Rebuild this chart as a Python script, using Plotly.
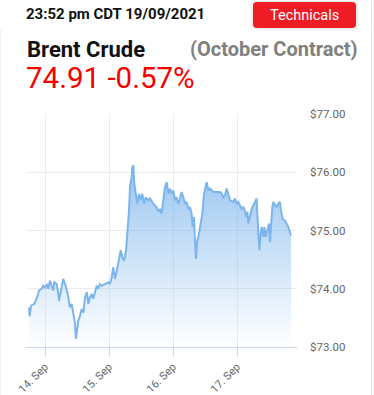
import plotly.graph_objects as go

# ---- data ----
times = [
    "2021-09-13 18:00", "2021-09-13 18:15", "2021-09-13 18:45", "2021-09-13 20:00", "2021-09-13 21:15",
    "2021-09-13 21:45", "2021-09-13 22:45", "2021-09-13 23:20", "2021-09-14 00:00", "2021-09-14 00:40",
    "2021-09-14 01:15", "2021-09-14 01:50", "2021-09-14 02:30", "2021-09-14 03:05", "2021-09-14 03:30",
    "2021-09-14 04:25", "2021-09-14 05:00", "2021-09-14 05:15", "2021-09-14 06:00", "2021-09-14 06:50",
    "2021-09-14 07:30", "2021-09-14 08:05", "2021-09-14 08:45", "2021-09-14 09:20", "2021-09-14 10:00",
    "2021-09-14 10:35", "2021-09-14 11:15", "2021-09-14 11:35", "2021-09-14 12:05", "2021-09-14 12:30",
    "2021-09-14 13:05", "2021-09-14 13:45", "2021-09-14 14:25", "2021-09-14 15:00", "2021-09-14 15:40",
    "2021-09-14 16:15", "2021-09-14 16:50", "2021-09-14 17:30", "2021-09-14 18:05", "2021-09-14 18:45",
    "2021-09-14 19:25", "2021-09-14 20:00", "2021-09-14 20:35", "2021-09-14 21:15", "2021-09-14 22:30",
    "2021-09-14 23:45", "2021-09-15 00:20", "2021-09-15 01:00", "2021-09-15 01:35", "2021-09-15 02:15",
    "2021-09-15 02:55", "2021-09-15 03:30", "2021-09-15 04:25", "2021-09-15 05:00", "2021-09-15 05:40",
    "2021-09-15 06:25", "2021-09-15 06:55", "2021-09-15 07:30", "2021-09-15 07:52", "2021-09-15 08:30",
    "2021-09-15 08:45", "2021-09-15 09:07", "2021-09-15 09:30", "2021-09-15 10:00", "2021-09-15 10:36",
    "2021-09-15 11:15", "2021-09-15 11:53", "2021-09-15 12:30", "2021-09-15 13:08", "2021-09-15 13:45",
    "2021-09-15 14:45", "2021-09-15 15:22", "2021-09-15 16:00", "2021-09-15 16:37", "2021-09-15 17:53",
    "2021-09-15 18:30", "2021-09-15 19:07", "2021-09-15 19:45", "2021-09-15 20:22", "2021-09-15 21:00",
    "2021-09-15 21:38", "2021-09-15 22:15", "2021-09-15 22:52", "2021-09-15 23:30", "2021-09-16 00:07",
    "2021-09-16 00:45", "2021-09-16 01:23", "2021-09-16 02:00", "2021-09-16 02:37", "2021-09-16 03:15",
    "2021-09-16 03:52", "2021-09-16 04:30", "2021-09-16 05:07", "2021-09-16 05:45", "2021-09-16 06:22",
    "2021-09-16 07:00", "2021-09-16 07:22", "2021-09-16 07:52", "2021-09-16 08:15", "2021-09-16 08:37",
    "2021-09-16 09:07", "2021-09-16 09:45", "2021-09-16 10:22", "2021-09-16 11:00", "2021-09-16 11:37",
    "2021-09-16 12:15", "2021-09-16 12:37", "2021-09-16 13:15", "2021-09-16 13:52", "2021-09-16 15:07",
    "2021-09-16 16:22", "2021-09-16 17:37", "2021-09-16 18:15", "2021-09-16 18:52", "2021-09-16 19:30",
    "2021-09-16 20:07", "2021-09-16 20:45", "2021-09-16 21:22", "2021-09-16 22:37", "2021-09-16 23:15",
    "2021-09-16 23:52", "2021-09-17 00:30", "2021-09-17 01:07", "2021-09-17 01:45", "2021-09-17 02:22",
    "2021-09-17 03:00", "2021-09-17 03:22", "2021-09-17 03:52", "2021-09-17 04:15", "2021-09-17 04:52",
    "2021-09-17 05:30", "2021-09-17 06:07", "2021-09-17 06:45", "2021-09-17 07:22", "2021-09-17 07:37",
    "2021-09-17 08:00", "2021-09-17 08:22", "2021-09-17 08:52", "2021-09-17 09:15", "2021-09-17 09:52",
    "2021-09-17 10:15", "2021-09-17 10:45", "2021-09-17 11:22", "2021-09-17 12:00", "2021-09-17 12:22",
    "2021-09-17 12:45", "2021-09-17 13:15", "2021-09-17 13:37", "2021-09-17 14:15", "2021-09-17 14:52",
    "2021-09-17 15:30", "2021-09-17 16:07", "2021-09-17 16:30", "2021-09-17 17:07", "2021-09-17 18:00",
    "2021-09-17 18:37", "2021-09-17 19:15", "2021-09-17 19:52", "2021-09-17 20:15",
]
prices = [
    73.68, 73.53, 73.71, 73.74, 73.88,
    73.97, 74.00, 74.05, 74.02, 74.08,
    74.00, 74.14, 74.05, 73.97, 74.11,
    74.08, 73.91, 73.79, 73.97, 74.17,
    74.08, 74.00, 73.85, 73.68, 73.74,
    73.57, 73.40, 73.14, 73.31, 73.45,
    73.53, 73.65, 73.59, 73.85, 73.94,
    73.74, 73.85, 73.91, 73.83, 73.97,
    74.05, 74.00, 74.08, 74.05, 74.08,
    74.11, 74.08, 74.19, 74.37, 74.17,
    74.31, 74.43, 74.66, 74.54, 74.48,
    74.66, 74.94, 75.34, 75.75, 75.92,
    76.09, 76.12, 75.80, 75.63, 75.46,
    75.63, 75.52, 75.63, 75.46, 75.57,
    75.52, 75.55, 75.49, 75.46, 75.40,
    75.32, 75.37, 75.29, 75.52, 75.75,
    75.83, 75.63, 75.72, 75.63, 75.69,
    75.52, 75.57, 75.46, 75.55, 75.66,
    75.57, 75.46, 75.49, 75.37, 75.40,
    75.29, 75.06, 75.23, 74.83, 74.51,
    74.83, 74.94, 75.12, 75.29, 75.63,
    75.78, 75.83, 75.69, 75.72, 75.66,
    75.66, 75.66, 75.63, 75.57, 75.60,
    75.72, 75.63, 75.52, 75.49, 75.55,
    75.46, 75.49, 75.43, 75.37, 75.40,
    75.34, 75.23, 75.32, 75.12, 75.26,
    75.37, 75.43, 75.49, 75.55, 75.29,
    74.89, 74.66, 74.94, 75.06, 74.89,
    75.06, 74.89, 75.03, 75.12, 74.80,
    75.17, 75.40, 75.49, 75.43, 75.40,
    75.46, 75.49, 75.34, 75.20, 75.17,
    75.12, 75.06, 74.97, 74.91,
]
x_tick_vals = ["2021-09-14", "2021-09-15", "2021-09-16", "2021-09-17"]
x_tick_text = ["14. Sep", "15. Sep", "16. Sep", "17. Sep"]
y_tick_vals = [73, 74, 75, 76, 77]
y_tick_text = ["$73.00", "$74.00", "$75.00", "$76.00", "$77.00"]

title_time = "23:52 pm CDT 19/09/2021"
title_name = "Brent Crude"
title_contract = "(October Contract)"
title_quote = "74.91 -0.57%"
button_text = "Technicals"

# ---- layout geometry (page pixels; the body margin is removed below) ----
W, H = 374, 395
L, R, T, B = 26, 297, 114, 347


def px(x):  # pixel -> paper x
    return (x - L) / (R - L)


def pxa(x):  # pixel -> paper x for annotations (measured correction)
    return (x - 18) / 279


def py(y):  # pixel -> paper y
    return (B - y) / (B - T)


fig = go.Figure()
fig.add_trace(go.Scatter(
    x=times, y=prices, mode="lines",
    line=dict(color="#7cb5ec", width=2),
    fill="tozeroy",
    fillgradient=dict(type="vertical", start=73, stop=77,
                      colorscale=[[0, "rgba(124,181,236,0)"], [1, "rgba(124,181,236,1)"]]),
    hoverinfo="skip", showlegend=False,
))


def rounded_rect(x0, x1, y0, y1, r):
    return (f"M {px(x0 + r)},{py(y0)} L {px(x1 - r)},{py(y0)} "
            f"Q {px(x1)},{py(y0)} {px(x1)},{py(y0 + r)} "
            f"L {px(x1)},{py(y1 - r)} Q {px(x1)},{py(y1)} {px(x1 - r)},{py(y1)} "
            f"L {px(x0 + r)},{py(y1)} Q {px(x0)},{py(y1)} {px(x0)},{py(y1 - r)} "
            f"L {px(x0)},{py(y0 + r)} Q {px(x0)},{py(y0)} {px(x0 + r)},{py(y0)} Z")


shapes = [
    # soft shadow round the button
    dict(type="path", xref="paper", yref="paper", path=rounded_rect(250, 359, 0, 31, 7),
         fillcolor="rgba(0,0,0,0.035)", line=dict(width=0), layer="above"),
    dict(type="path", xref="paper", yref="paper", path=rounded_rect(251.5, 357.5, 1, 29.5, 5),
         fillcolor="rgba(0,0,0,0.04)", line=dict(width=0), layer="above"),
    dict(type="path", xref="paper", yref="paper", path=rounded_rect(253, 356, 2, 28, 4),
         fillcolor="#ee1c25", line=dict(width=0), layer="above"),
    # card edges
    dict(type="line", xref="paper", yref="paper", x0=px(371.5), x1=px(371.5), y0=py(0), y1=py(395),
         line=dict(color="#e4e4e4", width=1)),
    dict(type="line", xref="paper", yref="paper", x0=px(0.5), x1=px(0.5), y0=py(30), y1=py(395),
         line=dict(color="#efefef", width=1)),
]

font = "Roboto, 'Open Sans', sans-serif"
annotations = [
    dict(text=f"<b>{title_time}</b>", x=pxa(110.5), y=py(13.5), xref="paper", yref="paper",
         xanchor="center", yanchor="middle", showarrow=False, font=dict(family=font, size=15, color="#111111")),
    dict(text=f"<b>{title_name}</b>", x=pxa(80), y=py(49.5), xref="paper", yref="paper",
         xanchor="center", yanchor="middle", showarrow=False, font=dict(family=font, size=22, color="#111111")),
    dict(text=f"<b>{title_contract}</b>", x=pxa(273), y=py(48.5), xref="paper", yref="paper",
         xanchor="center", yanchor="middle", showarrow=False, font=dict(family=font, size=20, color="#808080")),
    dict(text=title_quote, x=pxa(105), y=py(77.5), xref="paper", yref="paper",
         xanchor="center", yanchor="middle", showarrow=False, font=dict(family=font, size=29.5, color="#f40000")),
    dict(text=button_text, x=pxa(304.5), y=py(15.5), xref="paper", yref="paper",
         xanchor="center", yanchor="middle", showarrow=False, font=dict(family=font, size=14.5, color="#ffffff")),
]

fig.update_layout(
    width=W, height=H,
    margin=dict(l=L, r=W - R, t=T, b=H - B, pad=0, autoexpand=False),
    paper_bgcolor="white", plot_bgcolor="white",
    font=dict(family=font),
    shapes=shapes, annotations=annotations,
    xaxis=dict(
        type="date", range=["2021-09-13 16:52:30", "2021-09-17 22:30"],
        tickvals=x_tick_vals, ticktext=x_tick_text, tickangle=-45,
        showgrid=True, gridcolor="#ececec", gridwidth=1,
        showline=True, linecolor="#ccd6eb", linewidth=1,
        ticks="outside", ticklen=8, tickcolor="#ccd6eb",
        tickfont=dict(family=font, size=11, color="#666666"),
        zeroline=False, fixedrange=True, automargin=False,
    ),
    yaxis=dict(
        range=[73, 77], side="right",
        tickvals=y_tick_vals, ticktext=y_tick_text,
        showgrid=True, gridcolor="#ececec", gridwidth=1,
        showline=False, zeroline=False, ticks="",
        ticklabelstandoff=12,
        tickfont=dict(family=font, size=11.5, color="#666666"),
        fixedrange=True, automargin=False,
    ),
)

fig.write_html(
    "out.html",
    config={"displayModeBar": False, "responsive": False, "staticPlot": True},
    post_script="document.body.style.margin='0';",
)
